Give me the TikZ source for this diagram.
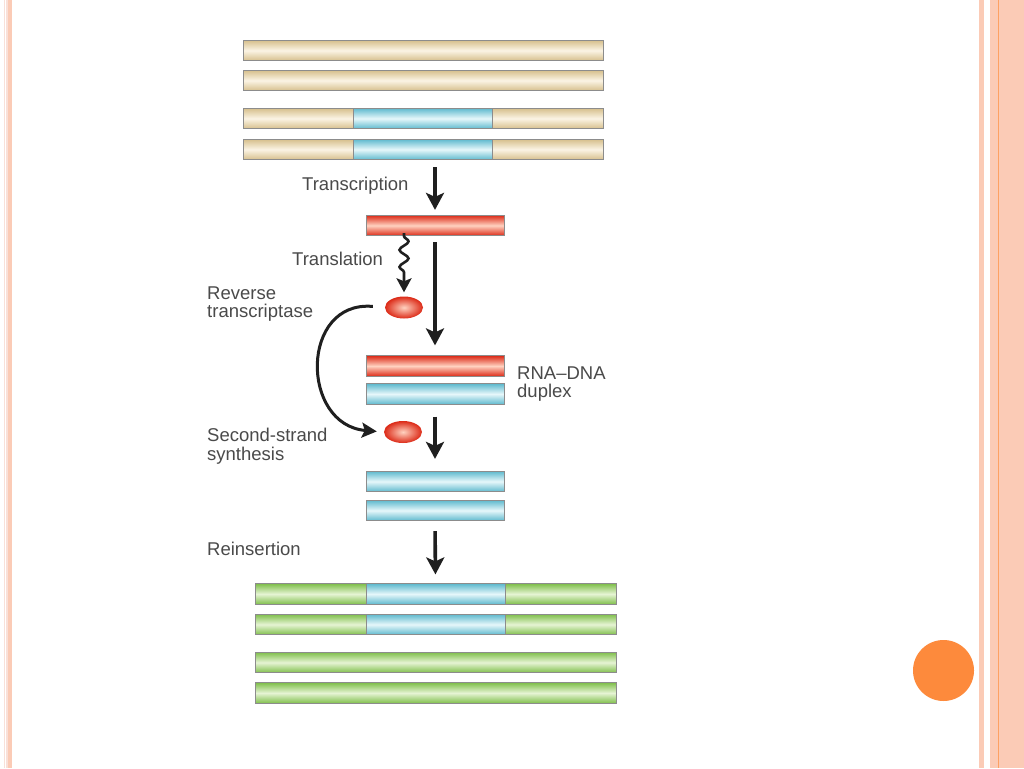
\documentclass[tikz,border=0pt]{standalone}
\usepackage{fontspec}
\setmainfont{Liberation Sans}
\usepackage{xcolor}
\usetikzlibrary{shapes.geometric, arrows.meta, decorations.pathmorphing}

\definecolor{tanedge}{HTML}{D6BF8C}
\definecolor{tanmid}{HTML}{FBF4E4}
\definecolor{blueedge}{HTML}{5FBACE}
\definecolor{bluemid}{HTML}{E6F7FA}
\definecolor{rededge}{HTML}{DC2A17}
\definecolor{redmid}{HTML}{FFD2C0}
\definecolor{greenedge}{HTML}{80BF4C}
\definecolor{greenmid}{HTML}{E6F4D4}
\definecolor{peach}{HTML}{FBCBB6}
\definecolor{palepink}{HTML}{F9E0D8}
\definecolor{dotorange}{HTML}{FD8A3C}
\definecolor{lbltext}{HTML}{4A4A4A}

\begin{document}
\begin{tikzpicture}[x=1pt, y=-1pt,
  bar/.style={rectangle, draw=black!45, line width=0.7pt, minimum height=20.5, inner sep=0},
  tanbar/.style={bar, top color=tanedge, bottom color=tanedge, middle color=tanmid},
  bluebar/.style={bar, top color=blueedge, bottom color=blueedge, middle color=bluemid},
  redbar/.style={bar, top color=rededge, bottom color=rededge, middle color=redmid},
  greenbar/.style={bar, top color=greenedge, bottom color=greenedge, middle color=greenmid},
  enzyme/.style={ellipse, minimum width=38, minimum height=22, inner sep=0, inner color=redmid, outer color=rededge},
  lbl/.style={font=\fontsize{18.5}{18.5}\selectfont, text=lbltext, inner sep=0, align=left},
  flow/.style={draw=black!88, line width=3.6pt, -{Stealth[length=17pt, width=18pt, inset=4pt]}},
  squig/.style={draw=black!88, line width=2.6pt, -{Stealth[length=14pt, width=15pt, inset=3pt]},
    decorate, decoration={snake, amplitude=4.5pt, segment length=17pt, post length=17pt}}]
  \useasboundingbox (0,0) rectangle (1024,768);
  \fill[white] (0,0) rectangle (1024,768);

  % slide frame
  \fill[palepink] (4,0) rectangle (5,768);
  \fill[palepink] (5.5,0) rectangle (7.5,768);
  \fill[peach] (8,0) rectangle (12,768);
  \fill[peach] (979,0) rectangle (984,768);
  \fill[peach] (990,0) rectangle (1024,768);
  \draw[dotorange!80, line width=0.8pt] (998,0) -- (998,768);
  \node[circle, fill=dotorange, minimum size=61, inner sep=0] (dot) at (943.5,670.5) {};

  % host DNA
  \node[tanbar, minimum width=360] (dnaA) at (423,50.5) {};
  \node[tanbar, minimum width=360] (dnaB) at (423,80.5) {};
  \node[tanbar, minimum width=110] (dnaCl) at (298,118.5) {};
  \node[bluebar, minimum width=139] (dnaCm) at (422.5,118.5) {};
  \node[tanbar, minimum width=111] (dnaCr) at (547.5,118.5) {};
  \node[tanbar, minimum width=110] (dnaDl) at (298,149.5) {};
  \node[bluebar, minimum width=139] (dnaDm) at (422.5,149.5) {};
  \node[tanbar, minimum width=111] (dnaDr) at (547.5,149.5) {};

  % RNA and enzymes
  \node[redbar, minimum width=138] (rna) at (435,225.5) {};
  \node[enzyme] (enz1) at (404,307.5) {};
  \node[redbar, minimum width=138] (hybR) at (435,366) {};
  \node[bluebar, minimum width=138] (hybD) at (435,394) {};
  \node[enzyme] (enz2) at (403,432) {};
  \node[bluebar, minimum width=138] (cdnaA) at (435,481.5) {};
  \node[bluebar, minimum width=138] (cdnaB) at (435,510.5) {};

  % new host DNA
  \node[greenbar, minimum width=111] (newAl) at (310.5,594) {};
  \node[bluebar, minimum width=139] (newAm) at (435.5,594) {};
  \node[greenbar, minimum width=111] (newAr) at (560.5,594) {};
  \node[greenbar, minimum width=111] (newBl) at (310.5,624.5) {};
  \node[bluebar, minimum width=139] (newBm) at (435.5,624.5) {};
  \node[greenbar, minimum width=111] (newBr) at (560.5,624.5) {};
  \node[greenbar, minimum width=361] (newC) at (435.5,662.5) {};
  \node[greenbar, minimum width=361] (newD) at (435.5,693) {};

  % labels
  \node[lbl, anchor=base west] (ltr) at (302,190.5) {Transcription};
  \node[lbl, anchor=base west] (ltl) at (292,265.5) {Translation};
  \node[lbl, anchor=west] (lrt) at (207,304) {Reverse\\transcriptase};
  \node[lbl, anchor=west] (ldup) at (517,384) {RNA--DNA\\duplex};
  \node[lbl, anchor=west] (lss) at (207,446) {Second-strand\\synthesis};
  \node[lbl, anchor=base west] (lre) at (207,555.5) {Reinsertion};

  % arrows
  \draw[flow, shorten <=7pt, shorten >=5pt] (rna.north |- dnaDm.south) -- (rna.north);
  \draw[flow, shorten <=6pt, shorten >=10pt] (rna.south) -- (hybR.north);
  \draw[squig, shorten <=3pt, shorten >=4pt] (enz1.north |- rna.south) -- (enz1.north);
  \draw[flow, shorten <=12pt, shorten >=12pt] (hybD.south) -- (cdnaA.north);
  \draw[flow, shorten <=10pt, shorten >=9pt] (cdnaB.south) -- (newAm.north);
  \draw[draw=black!88, line width=3pt, -{Stealth[length=15pt, width=15pt, inset=3pt]}, shorten <=12pt, shorten >=7pt]
    (enz1.west) .. controls (300,300) and (300,425) .. (enz2.west);
\end{tikzpicture}
\end{document}
